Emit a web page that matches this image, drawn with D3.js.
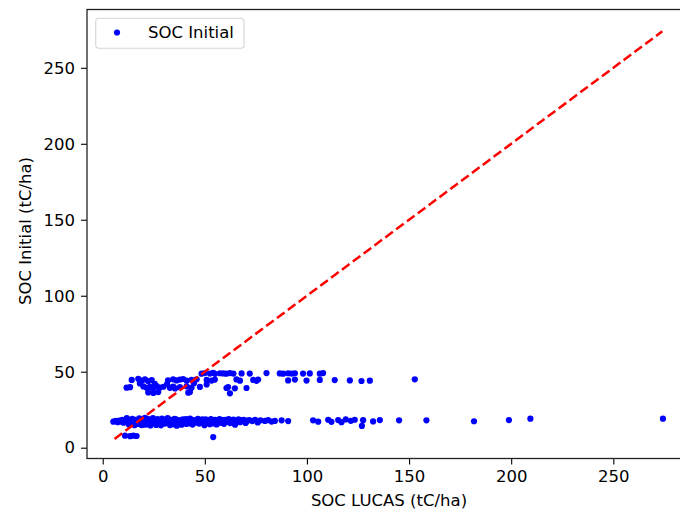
<!DOCTYPE html>
<html>
<head>
<meta charset="utf-8">
<script src="https://cdn.jsdelivr.net/npm/d3@7"></script>
<style>
  body { margin: 0; background: #fff; }
  svg { display: block; font-family: "DejaVu Sans", sans-serif; }
</style>
</head>
<body>
<div id="chart"></div>
<script>
// SOC LUCAS (x) vs SOC Initial (y)
var lowerBand = [
    [5.2,17.1],[6.4,17.6],[7.3,16.8],[8.1,17.9],[8.8,17.2],[9.6,18.3],[10.2,16.5],[10.9,17.8],[11.5,18.6],[12.3,17.0],
    [12.8,15.2],[13.4,18.1],[13.9,16.4],[14.5,19.0],[15.1,17.4],[15.6,14.8],[16.2,18.4],[16.8,16.9],[17.3,15.6],[17.9,19.3],
    [18.4,17.6],[19.0,14.9],[19.6,18.2],[20.1,16.3],[20.7,19.6],[21.2,17.1],[21.8,15.3],[22.3,18.8],[22.9,16.7],[23.4,14.6],
    [24.0,18.0],[24.6,19.4],[25.1,16.1],[25.7,17.7],[26.2,15.0],[26.8,18.9],[27.3,16.6],[27.9,17.9],[28.5,14.7],[29.0,19.1],
    [29.6,17.3],[30.1,15.8],[30.7,18.5],[31.2,16.2],[31.8,19.5],[32.4,17.5],[32.9,14.9],[33.5,18.3],[34.0,16.8],[34.6,15.4],
    [35.2,19.0],[35.7,17.2],[36.3,14.5],[36.9,18.1],[37.4,16.4],[38.0,17.8],[38.6,15.1],[39.2,18.7],[39.8,16.9],[40.4,17.6],
    [41.0,15.6],[41.6,18.4],[42.2,16.7],[42.8,19.2],[43.4,17.0],[44.0,15.2],[44.7,18.2],[45.3,16.5],[45.9,17.7],[46.6,19.0],
    [47.2,15.9],[47.8,18.0],[48.5,16.6],[49.1,17.4],[49.8,14.8],[50.4,18.6],[51.1,16.3],[51.7,17.9],[52.4,15.5],[53.0,18.9],
    [53.7,17.1],[54.4,16.0],[55.1,18.3],[55.8,15.3],[56.5,17.6],[57.2,18.8],[57.9,16.4],[58.6,17.9],[59.4,15.7],[60.1,18.4],
    [60.9,17.0],[61.7,18.9],[62.4,16.2],[63.2,17.7],[64.0,18.5],[64.8,15.1],[65.6,17.3],[66.5,18.6],[67.3,16.8],[68.2,17.9],
    [69.1,18.4],[70.0,16.3],[70.9,17.8],[71.8,18.2],
    [11.8,19.4],[14.0,17.2],[16.5,16.0],[18.7,18.9],[20.4,15.1],[23.1,17.4],[25.4,18.3],[28.2,16.0],[30.4,17.0],[33.2,16.1],
    [35.9,18.6],[38.3,17.0],[40.7,18.9],[43.1,15.9],[46.2,17.2],[48.8,18.7],[52.7,17.3],[56.1,16.9],[59.0,18.1],[63.6,16.7],
    [67.9,18.0],
    [73.3,17.5],[74.6,18.3],[75.9,16.6],[77.2,18.0],[79.4,17.6],[81.0,18.1],[82.7,17.2],[84.3,17.6],[87.6,18.0],[90.8,17.5],
    [103.0,18.0],[105.5,17.1],[110.4,18.4],[112.0,17.0],[115.3,18.2],[116.9,16.8],[119.0,18.6],[121.5,17.7],[123.4,18.4],
    [126.9,14.3],[127.5,18.1],[132.4,17.3],[135.7,18.2],[145.1,18.0],[158.5,18.0],[181.8,17.4],[198.9,18.2],[209.4,19.1],
    [274.3,19.1]
];

var lowOutliers = [[10.9,7.9],[13.4,7.6],[15.0,7.9],[16.6,7.7],[54.1,7.0]];

var upperBand = [
    // ~49
    [48.4,48.7],[50.0,49.1],[52.5,48.8],[54.1,49.2],[55.0,48.6],[57.4,49.0],[59.0,48.9],[60.5,48.7],[62.3,49.1],[64.0,48.8],
    [68.0,48.9],[72.0,48.8],[80.2,49.1],[86.7,48.9],[88.4,48.7],[90.8,49.0],[92.5,48.8],[94.1,49.0],[98.1,48.8],[101.4,48.9],
    [106.3,48.7],[107.9,49.1],
    // ~44.5
    [14.2,44.6],[17.4,45.3],[19.1,44.2],[20.7,44.9],[22.3,43.8],[24.0,44.5],[32.0,44.4],[34.5,45.0],[36.2,44.3],[37.8,44.8],
    [39.4,45.2],[41.1,44.1],[43.5,44.7],[46.0,45.0],[50.9,44.6],[53.3,44.2],[54.9,44.8],[65.5,44.9],[67.2,44.1],[73.7,44.6],
    [75.3,44.0],[76.1,44.8],[90.8,44.3],[94.1,44.8],[99.8,44.2],[106.3,44.6],[113.6,44.5],[121.0,44.3],[126.7,43.9],[130.8,44.1],
    [152.8,45.0],
    // ~42
    [18.2,42.3],[25.5,42.0],[31.5,41.8],[44.7,42.4],[50.9,41.6],
    // ~39.5
    [11.7,39.5],[13.4,39.8],[19.9,40.3],[21.5,39.4],[23.1,40.0],[24.8,39.2],[26.4,40.5],[28.0,39.6],[29.7,40.1],[32.9,39.4],
    [34.5,40.2],[35.4,39.0],[37.8,39.8],[41.1,40.4],[43.5,39.5],[47.6,40.0],[60.6,39.3],[61.4,39.9],[64.7,39.1],[70.4,39.3],
    // ~36
    [22.3,36.4],[24.8,36.0],[27.2,36.6],[41.9,36.2],[42.7,36.7],[62.3,35.8]
];

var fitLine = [[5.8,5.8],[274,274]];
var xTicks = [0, 50, 100, 150, 200, 250];
var yTicks = [0, 50, 100, 150, 200, 250];

var width = 680, height = 511;
var frame = {left: 87, top: 9.5, right: 690, bottom: 458.5};
var fontSize = 16.5;

var svg = d3.select("#chart").append("svg")
    .attr("width", width)
    .attr("height", height);

var x = d3.scaleLinear().domain([0, 250]).range([102.7, 613.3]);
var y = d3.scaleLinear().domain([0, 250]).range([447.7, 67.8]);

svg.append("clipPath").attr("id", "plot-clip")
    .append("rect")
    .attr("x", frame.left).attr("y", frame.top)
    .attr("width", frame.right - frame.left)
    .attr("height", frame.bottom - frame.top);

var plot = svg.append("g").attr("clip-path", "url(#plot-clip)");

var allPoints = lowerBand.concat(lowOutliers, upperBand);

plot.selectAll(".dot")
    .data(allPoints)
    .enter().append("circle")
    .attr("class", "dot")
    .attr("cx", function (d) { return x(d[0]); })
    .attr("cy", function (d) { return y(d[1]); })
    .attr("r", 3.1)
    .style("fill", "#0000ff");

plot.append("path")
    .datum(fitLine)
    .attr("d", d3.line()
        .x(function (d) { return x(d[0]); })
        .y(function (d) { return y(d[1]); }))
    .style("fill", "none")
    .style("stroke", "#ff0000")
    .style("stroke-width", 2.5)
    .style("stroke-dasharray", "9.4,4.1");

// axes
var xAxis = svg.append("g")
    .attr("transform", "translate(0," + frame.bottom + ")")
    .call(d3.axisBottom(x).tickValues(xTicks).tickSize(6).tickPadding(5.5).tickSizeOuter(0));

var yAxis = svg.append("g")
    .attr("transform", "translate(" + frame.left + ",0)")
    .call(d3.axisLeft(y).tickValues(yTicks).tickSize(6).tickPadding(6).tickSizeOuter(0));

[xAxis, yAxis].forEach(function (a) {
    a.select(".domain").remove();
    a.selectAll("line").style("stroke", "#000").style("stroke-width", 1.1);
    a.selectAll("text")
        .style("font-family", "DejaVu Sans")
        .style("font-size", fontSize + "px")
        .style("fill", "#000");
});

// spines
svg.append("rect")
    .attr("x", frame.left).attr("y", frame.top)
    .attr("width", frame.right - frame.left)
    .attr("height", frame.bottom - frame.top)
    .style("fill", "none")
    .style("stroke", "#222")
    .style("stroke-width", 1.3);

svg.append("text")
    .attr("x", 389)
    .attr("y", 506)
    .attr("text-anchor", "middle")
    .style("font-size", fontSize + "px")
    .text("SOC LUCAS (tC/ha)");

svg.append("text")
    .attr("transform", "translate(25,231) rotate(-90)")
    .attr("dy", "0.35em")
    .attr("text-anchor", "middle")
    .style("font-size", fontSize + "px")
    .text("SOC Initial (tC/ha)");

// legend
var legend = svg.append("g");
legend.append("rect")
    .attr("x", 95.7).attr("y", 18.3)
    .attr("width", 148.3).attr("height", 30)
    .attr("rx", 3)
    .style("fill", "#fff")
    .style("fill-opacity", 0.8)
    .style("stroke", "#d6d6d6")
    .style("stroke-width", 1.1);
legend.append("circle")
    .attr("cx", 117).attr("cy", 32.5).attr("r", 3.1)
    .style("fill", "#0000ff");
legend.append("text")
    .attr("x", 148).attr("y", 32.5)
    .attr("dy", "0.35em")
    .style("font-size", fontSize + "px")
    .text("SOC Initial");
</script>
</body>
</html>
